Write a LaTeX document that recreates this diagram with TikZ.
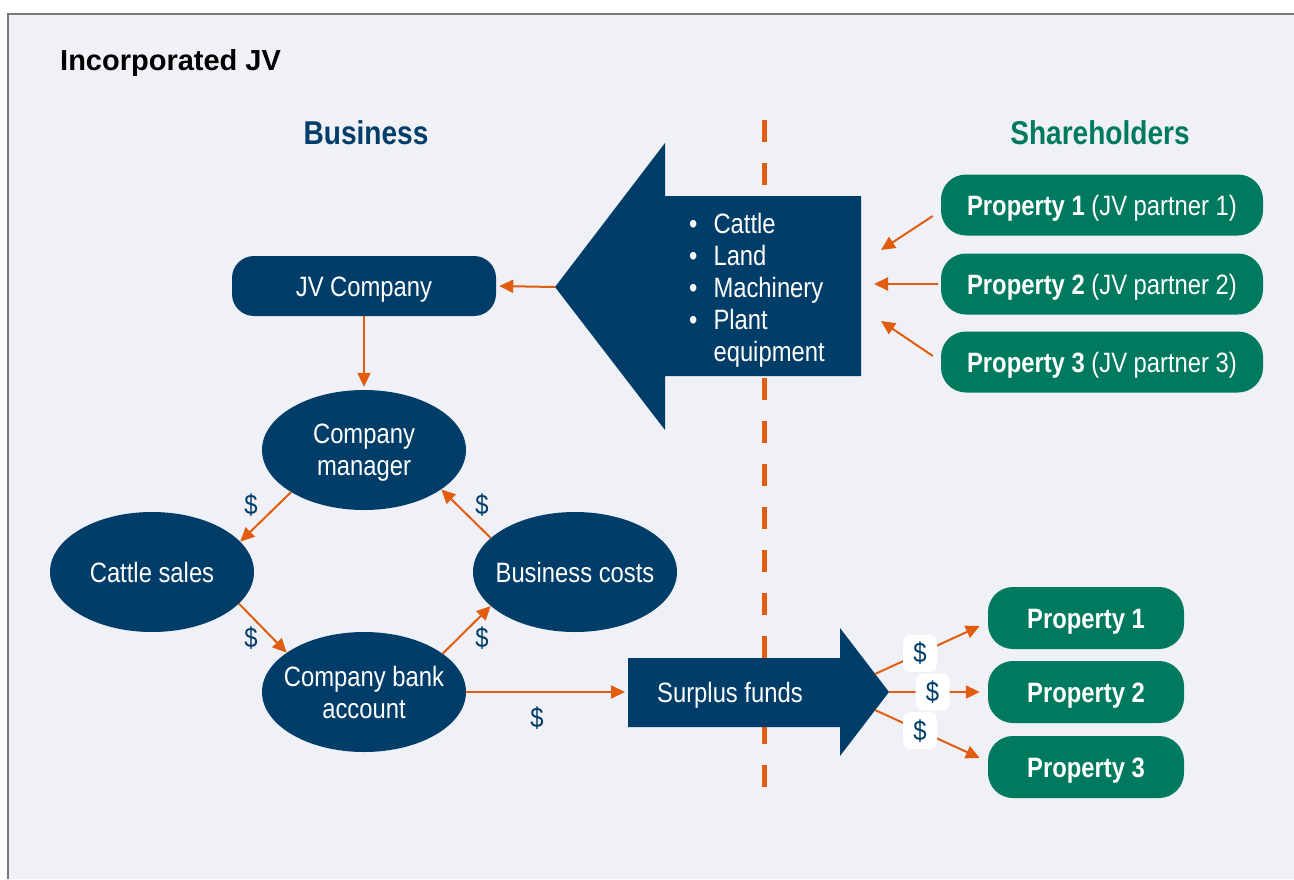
\documentclass[tikz,border=0pt]{standalone}
\usepackage{fontspec}
\setmainfont{Liberation Sans}
\newfontfamily\narrowfont{Liberation Sans}[FakeStretch=0.85]
\usetikzlibrary{arrows.meta, positioning, shapes.geometric, calc}
\definecolor{jvblue}{RGB}{0,61,104}
\definecolor{jvgreen}{RGB}{0,122,94}
\definecolor{jvorange}{RGB}{226,92,16}
\definecolor{panel}{RGB}{240,241,246}
\definecolor{framegray}{RGB}{120,120,120}
\newcommand{\bodyfont}{\narrowfont\fontsize{28}{32}\selectfont}
\tikzset{
  box/.style={
    fill=jvblue,
    text=white,
    rounded corners=22pt,
    minimum width=264pt,
    minimum height=60pt,
    inner sep=0pt,
    text height=20pt,
    text depth=0pt,
    font=\bodyfont
  },
  oval/.style={
    ellipse,
    fill=jvblue,
    text=white,
    minimum width=204pt,
    minimum height=120pt,
    inner xsep=-22pt,
    inner ysep=0pt,
    text depth=0pt,
    align=center,
    font=\bodyfont
  },
  propbox/.style={
    fill=jvgreen,
    text=white,
    rounded corners=25pt,
    minimum height=61pt,
    inner sep=0pt,
    text height=20pt,
    text depth=0pt,
    font=\bodyfont
  },
  flow/.style={
    draw=jvorange,
    line width=2pt,
    -{Triangle[length=14pt,width=13pt]}
  },
  money/.style={
    text=jvblue,
    inner sep=0pt,
    font=\bodyfont
  },
  moneytag/.style={
    money,
    fill=white,
    rounded corners=8pt,
    minimum width=34pt,
    minimum height=37pt
  },
  heading/.style={
    inner sep=0pt,
    font=\narrowfont\bfseries\fontsize{33}{38}\selectfont
  }
}

\begin{document}
\begin{tikzpicture}[x=1pt, y=-1pt]
  \useasboundingbox (0,0) rectangle (1294,879);
  \fill[panel] (8,14) rectangle (1294,879);
  \draw[framegray, line width=2pt] (8,879) -- (8,14) -- (1294,14);

  % titles
  \node[anchor=base west, inner sep=0pt, font=\bfseries\fontsize{29}{34}\selectfont] (title) at (60,70) {Incorporated JV};
  \node[heading, text=jvblue] (business) at (366,133) {Business};
  \node[heading, text=jvgreen] (holders) at (1100,133) {Shareholders};

  % divider
  \draw[jvorange, line width=5pt, dash pattern=on 22pt off 21pt] (764,120) -- (764,787);

  % contribution arrow
  \coordinate (intip) at (555,287);
  \fill[jvblue] (intip) -- (665,143) -- (665,196) -- (861,196) -- (861,376)
    -- (665,376) -- (665,430) -- cycle;
  \node[anchor=west, inner sep=0pt, text=white, font=\bodyfont] (assets) at (689,291)
    {\begin{tabular}{@{}l@{\hspace{16pt}}l@{}}
      \textbullet & Cattle\\
      \textbullet & Land\\
      \textbullet & Machinery\\
      \textbullet & Plant\\
                  & equipment
    \end{tabular}};
  \coordinate (in1) at (881,250);
  \coordinate (in2) at (874,284);
  \coordinate (in3) at (881,321);

  % shareholders
  \node[propbox, minimum width=322pt] (sh1) at (1102,205) {\textbf{Property 1} (JV partner 1)};
  \node[propbox, minimum width=322pt] (sh2) at (1102,284) {\textbf{Property 2} (JV partner 2)};
  \node[propbox, minimum width=322pt] (sh3) at (1102,362) {\textbf{Property 3} (JV partner 3)};

  \draw[flow] ([xshift=-8pt,yshift=-11pt]sh1.west) -- (in1);
  \draw[flow] ([xshift=-3pt]sh2.west) -- (in2);
  \draw[flow] ([xshift=-8pt,yshift=6pt]sh3.west) -- (in3);

  % business
  \node[box] (jv) at (364,286) {JV Company};
  \node[oval] (mgr) at (364,450) {Company\\manager};
  \node[oval] (sales) at (152,572) {Cattle sales};
  \node[oval] (costs) at (575,572) {Business costs};
  \node[oval] (bank) at (364,692) {Company bank\\account};

  \draw[flow, shorten >=3pt] (intip) -- (jv.east);
  \draw[flow, shorten >=3pt] (jv) -- (mgr);
  \draw[flow] (mgr.210) -- (sales.19);
  \draw[flow] (sales.340) -- (bank.153);
  \draw[flow] (bank.26) -- (costs.202);
  \draw[flow] (costs.158) -- (mgr.333);

  \node[money] (m1) at (251,505) {\$};
  \node[money] (m2) at (251,638) {\$};
  \node[money] (m3) at (482,638) {\$};
  \node[money] (m4) at (482,505) {\$};

  % surplus arrow
  \coordinate (outtail) at (628,692);
  \fill[jvblue] (outtail) -- (628,658) -- (840,658) -- (840,628) -- (889,692)
    -- (840,756) -- (840,727) -- (628,727) -- cycle;
  \node[anchor=west, inner sep=0pt, text=white, text height=20pt, text depth=0pt, font=\bodyfont] (surplus) at (657,692) {Surplus funds};
  \draw[flow, shorten >=3pt] (bank.east) -- (outtail);
  \node[money] (m5) at (537,718) {\$};

  % distributions
  \node[propbox, minimum width=196pt, minimum height=62pt] (pb1) at (1086,618) {\textbf{Property 1}};
  \node[propbox, minimum width=196pt, minimum height=62pt] (pb2) at (1086,692) {\textbf{Property 2}};
  \node[propbox, minimum width=196pt, minimum height=62pt] (pb3) at (1086,767) {\textbf{Property 3}};

  \coordinate (fan1) at (875,674);
  \coordinate (fan2) at (889,692);
  \coordinate (fan3) at (875,710);
  \draw[flow] (fan1) -- node[moneytag, pos=0.43] (t1) {\$} ($(pb1.west)+(-8,8)$);
  \draw[flow] (fan2) -- node[moneytag, pos=0.48] (t2) {\$} ($(pb2.west)+(-8,0)$);
  \draw[flow] (fan3) -- node[moneytag, pos=0.43] (t3) {\$} ($(pb3.west)+(-8,-9)$);
\end{tikzpicture}
\end{document}
